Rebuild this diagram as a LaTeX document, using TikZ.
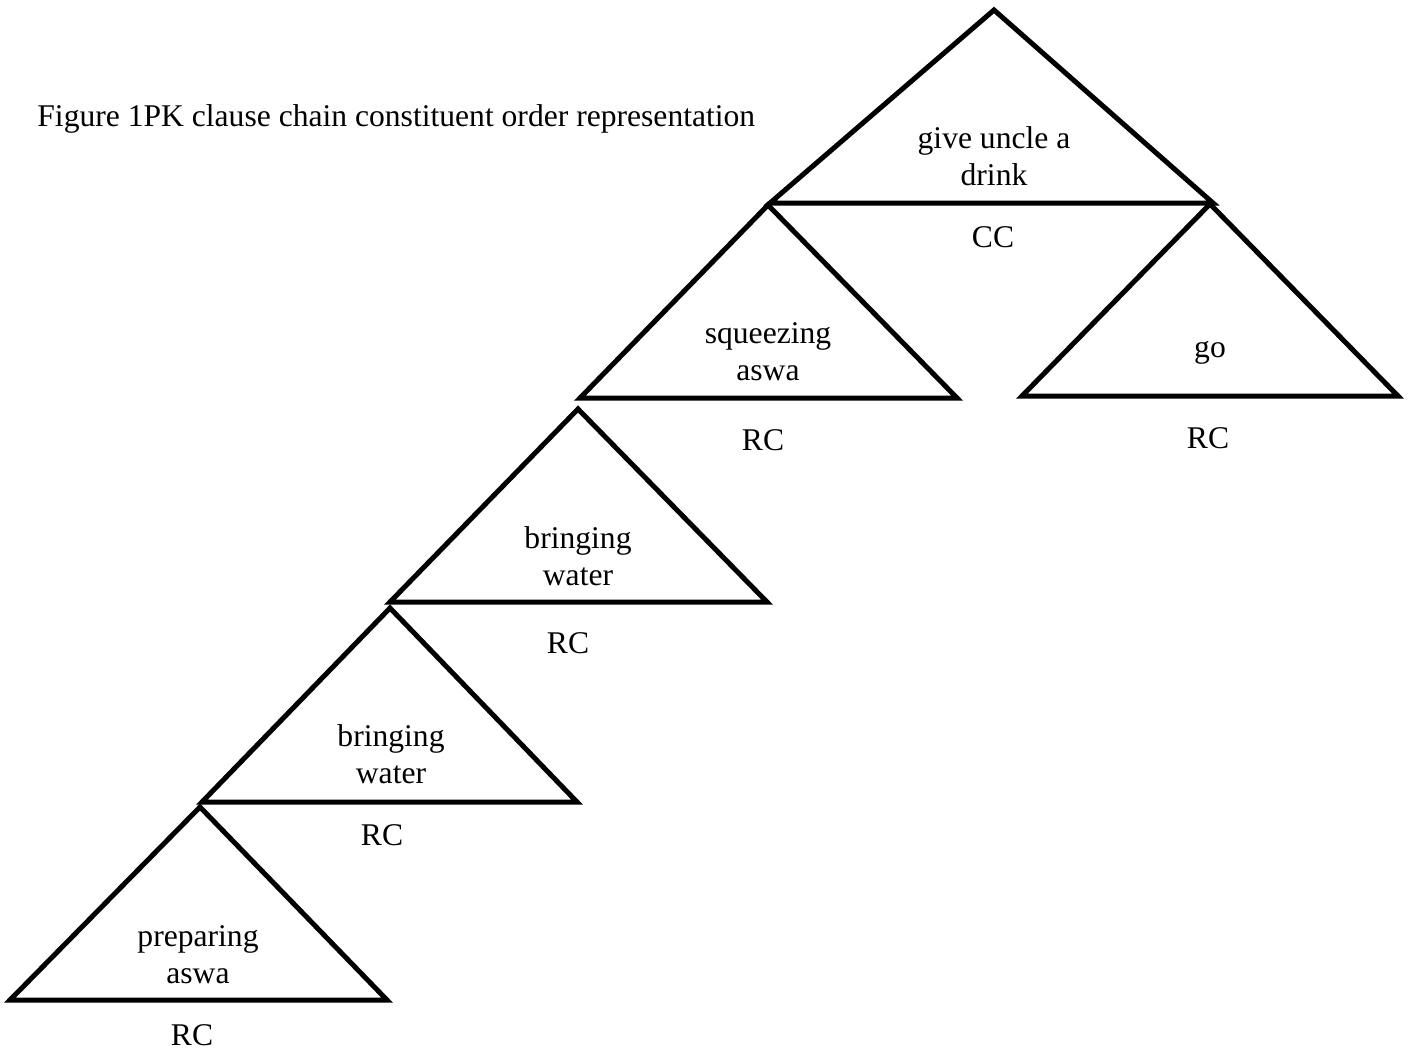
\documentclass[tikz,border=0pt]{standalone}
\usepackage{fontspec}
\setmainfont{Liberation Serif}
\usetikzlibrary{positioning}

\tikzset{
  tri/.style={draw=black, line width=2.5pt},
  lbl/.style={inner sep=0pt, anchor=base, align=center, font=\fontsize{15.8}{18.5}\selectfont},
}

\begin{document}
\begin{tikzpicture}[x=0.5pt, y=-0.5pt]
    \useasboundingbox (0,0) rectangle (1408,1051);
    \node[lbl, anchor=base west] (title) at (37,126) {Figure 1PK clause chain constituent order representation};
    % apexes of the clause triangles
    \coordinate (cc) at (994,10);
    \coordinate (sq) at (768,205);
    \coordinate (go) at (1210,204);
    \coordinate (bw1) at (578,409);
    \coordinate (bw2) at (390,608);
    \coordinate (pa) at (200,807);
    \draw[tri] (cc) -- ++(-224,193) -- ++(443,0) -- cycle;
    \draw[tri] (sq) -- ++(-188,193) -- ++(377,0) -- cycle;
    \draw[tri] (go) -- ++(-188,192) -- ++(376,0) -- cycle;
    \draw[tri] (bw1) -- ++(-188,193) -- ++(377,0) -- cycle;
    \draw[tri] (bw2) -- ++(-188,194) -- ++(375,0) -- cycle;
    \draw[tri] (pa) -- ++(-190,193) -- ++(377,0) -- cycle;
    % clause texts (base = last line)
    \node[lbl] (cc-t) at (994,185) {give uncle a\\drink};
    \node[lbl] (sq-t) at (768,380) {squeezing\\aswa};
    \node[lbl] (go-t) at (1210,357) {go};
    \node[lbl] (bw1-t) at (578,585) {bringing\\water};
    \node[lbl] (bw2-t) at (391,783) {bringing\\water};
    \node[lbl] (pa-t) at (198,983) {preparing\\aswa};
    % clause types
    \node[lbl] (cc-l) at (993,247) {CC};
    \node[lbl] (sq-l) at (763,450) {RC};
    \node[lbl] (go-l) at (1208,448) {RC};
    \node[lbl] (bw1-l) at (568,653) {RC};
    \node[lbl] (bw2-l) at (382,845) {RC};
    \node[lbl] (pa-l) at (192,1045) {RC};
\end{tikzpicture}
\end{document}
